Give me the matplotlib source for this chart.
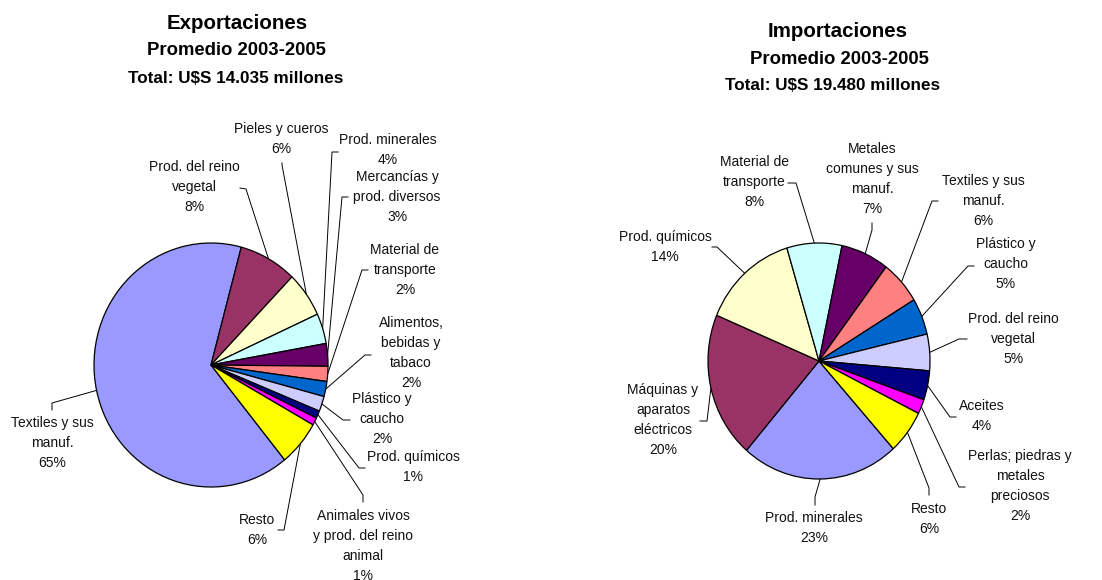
import matplotlib.pyplot as plt
import numpy as np

plt.rcParams['font.family'] = ['Liberation Sans', 'DejaVu Sans']

# Exportaciones, promedio 2003-2005 (%)
exp_labels = ['Textiles y sus\nmanuf.', 'Prod. del reino\nvegetal', 'Pieles y cueros',
              'Prod. minerales', 'Mercancías y\nprod. diversos', 'Material de\ntransporte',
              'Alimentos,\nbebidas y\ntabaco', 'Plástico y\ncaucho', 'Prod. químicos',
              'Animales vivos\ny prod. del reino\nanimal', 'Resto']
exp_values = [65, 8, 6, 4, 3, 2, 2, 2, 1, 1, 6]

# Importaciones, promedio 2003-2005 (%)
imp_labels = ['Prod. minerales', 'Máquinas y\naparatos\neléctricos', 'Prod. químicos',
              'Material de\ntransporte', 'Metales\ncomunes y sus\nmanuf.',
              'Textiles y sus\nmanuf.', 'Plástico y\ncaucho', 'Prod. del reino\nvegetal',
              'Aceites', 'Perlas; piedras y\nmetales\npreciosos', 'Resto']
imp_values = [23, 20, 14, 8, 7, 6, 5, 5, 4, 2, 6]

colores = ['#9999FF', '#993366', '#FFFFCC', '#CCFFFF', '#660066', '#FF8080',
           '#0066CC', '#CCCCFF', '#000080', '#FF00FF', '#FFFF00']

W, H = 1102, 580
fig = plt.figure(figsize=(W / 100, H / 100), dpi=100)
ov = fig.add_axes([0, 0, 1, 1])
ov.set_xlim(0, W)
ov.set_ylim(H, 0)
ov.axis('off')

# posiciones de etiquetas (px): centro del texto, punto de anclaje, codo
exp_txt = [(52, 443), (194, 187), (281, 139), (388, 150), (397, 197), (405, 270),
           (411, 353), (382, 419), (413, 467), (363, 546), (257, 530)]
exp_lead = [((52, 410), (52, 403)), ((240, 188), (246, 189)), ((282, 163), (282, 165)),
            ((338, 152), (332, 152)), ((348, 197), (342, 197)), ((368, 270), (362, 270)),
            ((371, 355), (365, 355)), ((350, 420), (343, 420)), ((365, 468), (359, 468)),
            ((363, 502), (363, 495)), ((278, 530), (284, 530))]

imp_txt = [(814, 528), (663, 420), (665, 247), (754, 182), (872, 179), (983, 201),
           (1006, 264), (1013, 339), (982, 416), (1020, 486), (929, 519)]
imp_lead = [((815, 505), (815, 497)), ((700, 421), (707, 421)), ((712, 247), (717, 247)),
            ((788, 183), (796, 183)), ((872, 223), (872, 230)), ((938, 201), (932, 201)),
            ((974, 266), (968, 266)), ((967, 339), (959, 339)), ((956, 417), (950, 417)),
            ((965, 487), (959, 487)), ((929, 495), (929, 488))]


def torta(cx, cy, rx, ry, valores, etiquetas, inicio, txt, lead):
    ax = fig.add_axes([(cx - rx) / W, (H - cy - ry) / H, 2 * rx / W, 2 * ry / H])
    wedges, _ = ax.pie(valores, colors=colores, startangle=inicio, counterclock=False,
                       wedgeprops=dict(edgecolor='black', linewidth=0.9))
    ax.set_aspect('auto')
    ax.set_xlim(-1, 1)
    ax.set_ylim(-1, 1)
    ax.axis('off')
    tr = ax.transData + ov.transData.inverted()
    for w, lab, v, (tx, ty), (anc, codo) in zip(wedges, etiquetas, valores, txt, lead):
        mid = np.deg2rad((w.theta1 + w.theta2) / 2)
        ex, ey = tr.transform((np.cos(mid), np.sin(mid)))
        ov.plot([anc[0], codo[0], ex], [anc[1], codo[1], ey], color='black', lw=0.7)
        ov.text(tx, ty, f'{lab}\n{v}%', ha='center', va='center', fontsize=10,
                linespacing=1.56, color='#111111')


torta(211, 365, 117, 122, exp_values, exp_labels, -51, exp_txt, exp_lead)
torta(819, 361, 111, 118, imp_values, imp_labels, -48, imp_txt, imp_lead)

# titulos
ov.text(237, 29, 'Exportaciones', ha='center', va='baseline', fontsize=14.8, fontweight='bold')
ov.text(236, 55, 'Promedio 2003-2005', ha='center', va='baseline', fontsize=13.3, fontweight='bold')
ov.text(236, 83, 'Total: U$S 14.035 millones', ha='center', va='baseline', fontsize=12.3, fontweight='bold')
ov.text(838, 37, 'Importaciones', ha='center', va='baseline', fontsize=14.8, fontweight='bold')
ov.text(839, 64, 'Promedio 2003-2005', ha='center', va='baseline', fontsize=13.3, fontweight='bold')
ov.text(833, 90, 'Total: U$S 19.480 millones', ha='center', va='baseline', fontsize=12.3, fontweight='bold')

fig.savefig('out.png', dpi=100, facecolor='white')
